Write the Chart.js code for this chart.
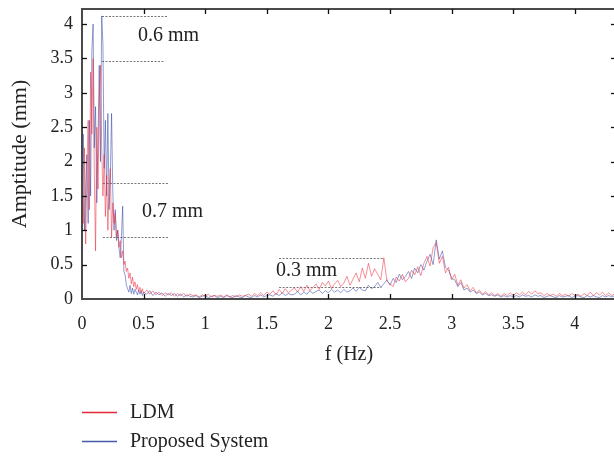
<!DOCTYPE html>
<html><head><meta charset="utf-8">
<script src="https://cdn.jsdelivr.net/npm/chart.js@4.4.0/dist/chart.umd.min.js"></script>
<style>
html,body{margin:0;padding:0;background:#fff;overflow:hidden;width:614px;height:457px;}
#wrap{position:relative;width:620px;height:457px;}
</style></head><body>
<div id="wrap"><canvas id="c"></canvas></div>
<script>
// Frequency grid (Hz)
const freq = [0,0.01,0.02,0.03,0.04,0.05,0.06,0.07,0.08,0.09,0.1,0.11,0.12,0.13,0.14,0.15,0.16,0.17,0.18,0.19,0.2,0.21,0.22,0.23,0.24,0.25,0.26,0.27,0.28,0.29,0.3,0.31,0.32,0.33,0.34,0.35,0.36,0.37,0.38,0.39,0.4,0.41,0.42,0.43,0.44,0.45,0.46,0.47,0.48,0.49,0.5,
0.525,0.55,0.575,0.6,0.625,0.65,0.675,0.7,
0.725,0.75,0.775,0.8,0.825,0.85,0.875,0.9,
0.925,0.95,0.975,1,1.025,1.05,1.075,1.1,
1.125,1.15,1.175,1.2,1.225,1.25,1.275,1.3,
1.325,1.35,1.375,1.4,1.425,1.45,1.475,1.5,
1.525,1.55,1.575,1.6,1.625,1.65,1.675,1.7,
1.725,1.75,1.775,1.8,1.825,1.85,1.875,1.9,
1.925,1.95,1.975,2,2.025,2.05,2.075,2.1,
2.125,2.15,2.175,2.2,2.225,2.25,2.275,2.3,
2.325,2.35,2.375,2.4,2.425,2.45,2.475,2.5,
2.525,2.55,2.575,2.6,2.625,2.65,2.675,2.7,
2.725,2.75,2.775,2.8,2.825,2.85,2.875,2.9,
2.925,2.95,2.975,3,3.025,3.05,3.075,3.1,
3.125,3.15,3.175,3.2,3.225,3.25,3.275,3.3,
3.325,3.35,3.375,3.4,3.425,3.45,3.475,3.5,
3.525,3.55,3.575,3.6,3.625,3.65,3.675,3.7,
3.725,3.75,3.775,3.8,3.825,3.85,3.875,3.9,
3.925,3.95,3.975,4,4.025,4.05,4.075,4.1,
4.125,4.15,4.175,4.2,4.225,4.25,4.275,4.3,
4.325,4.35,4.375,4.4];

// LDM amplitude (mm)
const ldm = [1.8,1.1,2.2,0.8,1.9,2.6,1.3,3.3,2.4,3.5,1.8,0.7,2.5,1.6,2.9,3.4,2.2,1.5,2.1,1.2,1.8,1.0,1.6,1.9,0.9,1.4,1.1,1.25,0.9,1.0,0.75,0.85,0.6,0.7,0.5,0.55,0.4,0.45,0.3,0.38,0.22,0.32,0.18,0.25,0.14,0.21,0.11,0.17,0.09,0.15,0.08,
0.13,0.07,0.12,0.06,0.1,0.05,0.09,0.06,
0.09,0.04,0.08,0.05,0.08,0.04,0.07,0.05,
0.06,0.03,0.06,0.04,0.07,0.03,0.05,0.04,
0.06,0.03,0.06,0.03,0.05,0.03,0.06,0.04,
0.05,0.07,0.04,0.08,0.05,0.09,0.05,0.1,
0.07,0.12,0.06,0.14,0.08,0.15,0.09,0.13,
0.16,0.1,0.18,0.11,0.2,0.12,0.17,0.22,
0.14,0.24,0.19,0.26,0.15,0.22,0.27,0.18,
0.23,0.33,0.2,0.29,0.38,0.25,0.45,0.3,
0.52,0.33,0.44,0.36,0.28,0.6,0.26,0.22,
0.18,0.32,0.26,0.36,0.25,0.3,0.42,0.35,
0.47,0.34,0.52,0.62,0.48,0.75,0.82,0.52,
0.62,0.38,0.46,0.28,0.36,0.2,0.28,0.16,
0.21,0.12,0.17,0.09,0.13,0.07,0.11,0.06,
0.09,0.05,0.08,0.04,0.08,0.05,0.09,0.05,
0.09,0.06,0.1,0.06,0.11,0.07,0.12,0.08,
0.09,0.05,0.08,0.05,0.07,0.04,0.08,0.05,
0.07,0.04,0.08,0.05,0.07,0.04,0.08,0.05,
0.1,0.05,0.09,0.06,0.1,0.05,0.09,0.05,
0.08,0.06,0.09,0.06];

// Proposed System amplitude (mm)
const proposed = [1.2,2.4,1.0,1.6,2.1,1.1,2.6,1.5,3.6,4.0,2.2,2.8,1.4,2.3,3.4,2.0,4.12,3.7,1.9,2.6,1.5,2.7,1.3,1.8,2.7,1.55,1.0,1.3,0.85,1.0,0.75,0.6,0.9,1.35,0.4,0.35,0.2,0.15,0.1,0.2,0.08,0.16,0.07,0.14,0.1,0.06,0.13,0.07,0.12,0.05,0.1,
0.07,0.12,0.05,0.1,0.06,0.09,0.04,0.08,
0.05,0.08,0.04,0.07,0.03,0.06,0.04,0.03,
0.05,0.02,0.04,0.05,0.02,0.04,0.05,0.02,
0.04,0.02,0.05,0.03,0.02,0.05,0.03,0.02,
0.05,0.03,0.02,0.05,0.03,0.06,0.03,0.05,
0.06,0.04,0.08,0.05,0.09,0.05,0.08,0.06,
0.07,0.11,0.06,0.1,0.07,0.12,0.08,0.11,
0.13,0.08,0.12,0.09,0.14,0.1,0.13,0.09,
0.14,0.1,0.12,0.16,0.11,0.17,0.13,0.12,
0.2,0.15,0.18,0.24,0.17,0.22,0.28,0.2,
0.3,0.24,0.36,0.28,0.33,0.4,0.3,0.45,
0.38,0.5,0.42,0.55,0.65,0.5,0.86,0.58,
0.7,0.46,0.42,0.3,0.28,0.18,0.24,0.13,
0.16,0.1,0.13,0.08,0.1,0.06,0.08,0.05,
0.06,0.04,0.06,0.03,0.05,0.03,0.05,0.03,
0.05,0.03,0.06,0.04,0.05,0.03,0.06,0.04,
0.05,0.02,0.04,0.05,0.03,0.02,0.05,0.03,
0.04,0.05,0.02,0.04,0.05,0.03,0.02,0.05,
0.03,0.05,0.03,0.02,0.05,0.03,0.05,0.03,
0.05,0.03,0.05,0.04];

const xTicks = [0,0.5,1,1.5,2,2.5,3,3.5,4];
const yTicks = [0,0.5,1,1.5,2,2.5,3,3.5,4];
const seriesNames = ['LDM','Proposed System'];

// Annotation guide lines: [y value, x start, x end]
const guideY  = [4.12, 3.47, 1.69, 0.90, 0.60, 0.17];
const guideX0 = [0.162, 0.162, 0.17, 0.17, 1.6, 1.6];
const guideX1 = [0.69, 0.675, 0.70, 0.70, 2.44, 2.43];
// Annotation labels: text, x (left), y (middle)
const noteText = ['0.6 mm','0.7 mm','0.3 mm'];
const noteX = [0.455, 0.487, 1.575];
const noteY = [3.83, 1.27, 0.41];

const SERIF = '"Liberation Serif", "DejaVu Serif", serif';
const TXT = '#222';

const frame = {
  id: 'frame',
  beforeDatasetsDraw(chart) {
    const {ctx, scales: {x, y}} = chart;
    ctx.save();
    ctx.strokeStyle = '#666';
    ctx.lineWidth = 0.9;
    ctx.setLineDash([2, 1.5]);
    guideY.forEach((v, i) => {
      const py = Math.round(y.getPixelForValue(v)) + 0.5;
      ctx.beginPath();
      ctx.moveTo(x.getPixelForValue(guideX0[i]), py);
      ctx.lineTo(x.getPixelForValue(guideX1[i]), py);
      ctx.stroke();
    });
    ctx.restore();
  },
  afterDatasetsDraw(chart) {
    const {ctx, chartArea: a, scales: {x, y}} = chart;
    ctx.save();
    ctx.strokeStyle = '#4a4a4a';
    ctx.lineWidth = 2;
    ctx.strokeRect(a.left, a.top, a.right - a.left, a.bottom - a.top);
    ctx.strokeStyle = '#111';
    ctx.lineWidth = 1.3;
    const seg = (x0, y0, x1, y1) => { ctx.beginPath(); ctx.moveTo(x0, y0); ctx.lineTo(x1, y1); ctx.stroke(); };
    xTicks.forEach(v => {
      if (v === 0) return;
      const px = Math.round(x.getPixelForValue(v)) + 0.5;
      seg(px, a.bottom, px, a.bottom - 5);
      seg(px, a.top, px, a.top + 5);
    });
    yTicks.forEach(v => {
      if (v === 0) return;
      const py = Math.round(y.getPixelForValue(v)) + 0.5;
      seg(a.left, py, a.left + 5, py);
      seg(a.right, py, a.right - 5, py);
    });
    ctx.fillStyle = TXT;
    ctx.font = '20px ' + SERIF;
    ctx.textAlign = 'left';
    ctx.textBaseline = 'middle';
    noteText.forEach((t, i) => {
      ctx.fillText(t, x.getPixelForValue(noteX[i]), y.getPixelForValue(noteY[i]));
    });
    ctx.restore();
  },
  afterDraw(chart) {
    const {ctx} = chart;
    ctx.save();
    ctx.font = '20px ' + SERIF;
    ctx.textAlign = 'left';
    ctx.textBaseline = 'middle';
    chart.data.datasets.forEach((ds, i) => {
      const cy = 412.5 + i * 29;
      ctx.strokeStyle = ds.legendColor;
      ctx.lineWidth = 1.6;
      ctx.beginPath();
      ctx.moveTo(82, cy);
      ctx.lineTo(117, cy);
      ctx.stroke();
      ctx.fillStyle = TXT;
      ctx.fillText(ds.label, 130, cy);
    });
    ctx.restore();
  }
};

new Chart(document.getElementById('c'), {
  type: 'line',
  data: {
    datasets: [
      {
        label: seriesNames[0],
        data: freq.map((f, i) => ({x: f, y: ldm[i]})),
        borderColor: 'rgba(235,40,55,0.62)',
        legendColor: 'rgb(228,40,55)',
        borderWidth: 0.85,
        pointRadius: 0,
        tension: 0,
        fill: false
      },
      {
        label: seriesNames[1],
        data: freq.map((f, i) => ({x: f, y: proposed[i]})),
        borderColor: 'rgba(45,65,165,0.62)',
        legendColor: 'rgb(70,90,170)',
        borderWidth: 0.85,
        pointRadius: 0,
        tension: 0,
        fill: false
      }
    ]
  },
  options: {
    responsive: true,
    maintainAspectRatio: false,
    animation: false,
    layout: {padding: {top: 9, right: 4, bottom: 90, left: 0}},
    plugins: {legend: {display: false}, tooltip: {enabled: false}},
    scales: {
      x: {
        type: 'linear',
        min: 0,
        max: 4.334,
        afterBuildTicks: s => { s.ticks = xTicks.map(v => ({value: v})); },
        afterFit: s => { s.height = 68; s.paddingLeft = 0; s.paddingRight = 0; },
        grid: {display: false, drawTicks: false},
        border: {display: false},
        ticks: {
          padding: 14,
          color: TXT,
          font: {family: SERIF, size: 18},
          maxRotation: 0,
          autoSkip: false,
          callback: v => String(v)
        },
        title: {
          display: true,
          text: 'f (Hz)',
          color: TXT,
          font: {family: SERIF, size: 20},
          padding: {top: 0, bottom: 0}
        }
      },
      y: {
        type: 'linear',
        min: 0,
        max: 4.22,
        afterBuildTicks: s => { s.ticks = yTicks.map(v => ({value: v})); },
        afterFit: s => { s.width = 82; s.paddingTop = 0; s.paddingBottom = 0; },
        grid: {display: false, drawTicks: false},
        border: {display: false},
        ticks: {
          padding: 9,
          color: TXT,
          font: {family: SERIF, size: 18, lineHeight: 1},
          autoSkip: false,
          callback: v => String(v)
        },
        title: {
          display: true,
          text: 'Amptitude (mm)',
          color: TXT,
          font: {family: SERIF, size: 22},
          padding: {top: 7, bottom: 0}
        }
      }
    }
  },
  plugins: [frame]
});
</script>
</body></html>
